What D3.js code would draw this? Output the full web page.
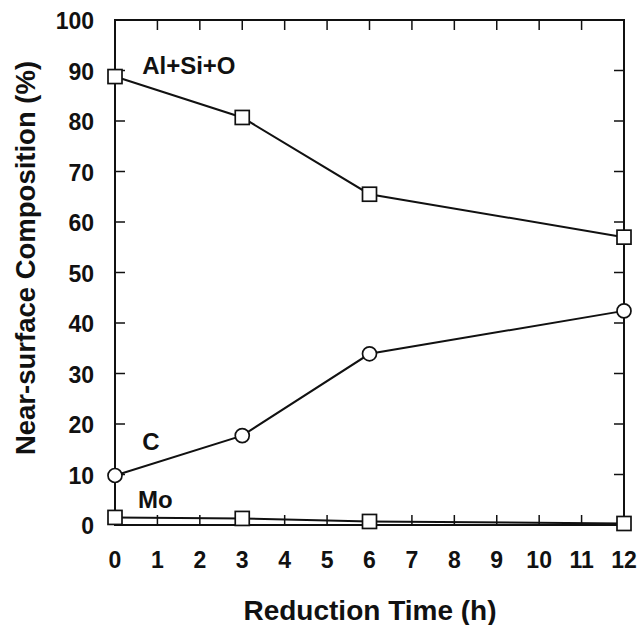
<!DOCTYPE html>
<html><head><meta charset="utf-8">
<script src="https://cdn.jsdelivr.net/npm/d3@7"></script>
<style>body{margin:0;background:#fff}</style>
</head><body>
<svg id="c" width="640" height="625"></svg>
<script>
const hours = [0, 3, 6, 12];
const alSiO = [88.8, 80.7, 65.5, 57.0];
const carbon = [9.8, 17.7, 33.9, 42.4];
const mo = [1.5, 1.3, 0.7, 0.3];
const xTicks = [0,1,2,3,4,5,6,7,8,9,10,11,12];
const yTicks = [0,10,20,30,40,50,60,70,80,90,100];

const svg = d3.select("#c");
const m = {l:115, r:624, t:20, b:525};
const x = d3.scaleLinear().domain([0,12]).range([m.l, m.r]);
const y = d3.scaleLinear().domain([0,100]).range([m.b, m.t]);
const font = "'Liberation Sans', Arial, sans-serif";

svg.append("rect").attr("x", m.l).attr("y", m.t).attr("width", m.r-m.l).attr("height", m.b-m.t)
  .attr("fill","none").attr("stroke","#111").attr("stroke-width",2);

const tl = 10;
svg.append("g").selectAll("line").data(xTicks).join("line")
  .attr("x1", d=>x(d)).attr("x2", d=>x(d)).attr("y1", m.b).attr("y2", m.b-tl)
  .attr("stroke","#111").attr("stroke-width",1.5);
svg.append("g").selectAll("line").data(xTicks).join("line")
  .attr("x1", d=>x(d)).attr("x2", d=>x(d)).attr("y1", m.t).attr("y2", m.t+tl)
  .attr("stroke","#111").attr("stroke-width",1.5);
svg.append("g").selectAll("line").data(yTicks).join("line")
  .attr("x1", m.l).attr("x2", m.l+tl).attr("y1", d=>y(d)).attr("y2", d=>y(d))
  .attr("stroke","#111").attr("stroke-width",1.5);
svg.append("g").selectAll("line").data(yTicks).join("line")
  .attr("x1", m.r).attr("x2", m.r-tl).attr("y1", d=>y(d)).attr("y2", d=>y(d))
  .attr("stroke","#111").attr("stroke-width",1.5);

svg.append("g").selectAll("text").data(xTicks).join("text")
  .attr("x", d=>x(d)).attr("y", 568).attr("text-anchor","middle")
  .attr("font-family", font).attr("font-weight","bold").attr("font-size",23).attr("fill","#111")
  .text(d=>d);
svg.append("g").selectAll("text").data(yTicks).join("text")
  .attr("x", 94).attr("y", d=>y(d)+9).attr("text-anchor","end")
  .attr("font-family", font).attr("font-weight","bold").attr("font-size",23).attr("fill","#111")
  .text(d=>d);

svg.append("text").attr("x", 370).attr("y", 620).attr("text-anchor","middle")
  .attr("font-family", font).attr("font-weight","bold").attr("font-size",28).attr("fill","#111")
  .text("Reduction Time (h)");
svg.append("text").attr("transform", `translate(35,258) rotate(-90)`).attr("text-anchor","middle")
  .attr("font-family", font).attr("font-weight","bold").attr("font-size",27.5).attr("fill","#111")
  .text("Near-surface Composition (%)");

const line = d3.line().x(d=>x(d[0])).y(d=>y(d[1]));
const series = [
  {vals: alSiO, shape:"square", label:"Al+Si+O", lx:0.64, ly:89.4},
  {vals: carbon, shape:"circle", label:"C", lx:0.64, ly:14.8},
  {vals: mo, shape:"square", label:"Mo", lx:0.54, ly:3.3}
];
series.forEach(s => {
  const pts = hours.map((h,i)=>[h, s.vals[i]]);
  svg.append("path").attr("d", line(pts)).attr("fill","none").attr("stroke","#111").attr("stroke-width",2);
  const g = svg.append("g");
  if (s.shape === "square") {
    g.selectAll("rect").data(pts).join("rect")
      .attr("x", d=>x(d[0])-7).attr("y", d=>y(d[1])-7).attr("width",14).attr("height",14)
      .attr("fill","#fff").attr("stroke","#111").attr("stroke-width",1.7);
  } else {
    g.selectAll("circle").data(pts).join("circle")
      .attr("cx", d=>x(d[0])).attr("cy", d=>y(d[1])).attr("r",7)
      .attr("fill","#fff").attr("stroke","#111").attr("stroke-width",1.7);
  }
  svg.append("text").attr("x", x(s.lx)).attr("y", y(s.ly))
    .attr("font-family", font).attr("font-weight","bold").attr("font-size",24).attr("fill","#111")
    .text(s.label);
});
</script>
</body></html>
